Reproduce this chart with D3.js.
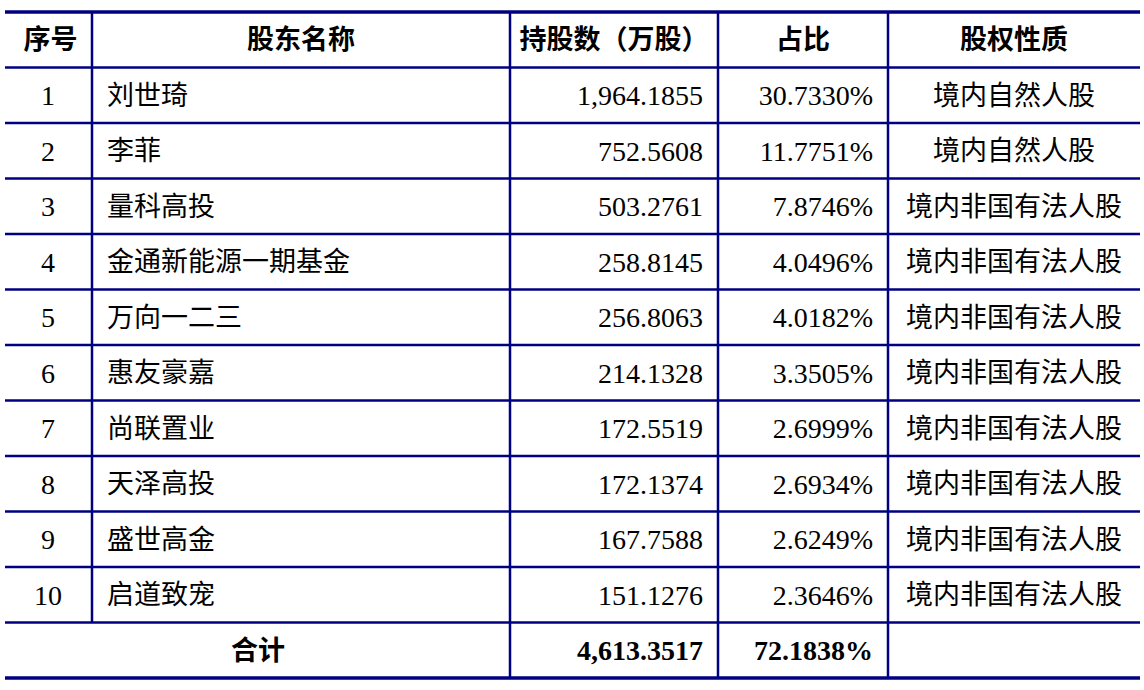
<!DOCTYPE html>
<html><head><meta charset="utf-8">
<script src="https://cdn.jsdelivr.net/npm/d3@7"></script>
<style>body{margin:0;background:#fff}</style></head>
<body><svg id="t" width="1144" height="690"></svg>
<script>
// table data
let headers = ["序号", "股东名称", "持股数（万股）", "占比", "股权性质"];
let names = ["刘世琦","李菲","量科高投","金通新能源一期基金","万向一二三","惠友豪嘉","尚联置业","天泽高投","盛世高金","启道致宠"];
let shares = ["1,964.1855","752.5608","503.2761","258.8145","256.8063","214.1328","172.5519","172.1374","167.7588","151.1276"];
let ratios = ["30.7330%","11.7751%","7.8746%","4.0496%","4.0182%","3.3505%","2.6999%","2.6934%","2.6249%","2.3646%"];
let kinds = ["境内自然人股","境内自然人股","境内非国有法人股","境内非国有法人股","境内非国有法人股","境内非国有法人股","境内非国有法人股","境内非国有法人股","境内非国有法人股","境内非国有法人股"];
let total = ["合计", "4,613.3517", "72.1838%"];

let svg = d3.select("#t");
let navy = "#000080";
let cjk = "'Noto Sans CJK SC', sans-serif";
let serif = "'Liberation Serif', 'DejaVu Serif', serif";
let colX = [5, 92, 510, 718, 888, 1140];
let y = d3.scaleLinear().domain([0, 12]).range([12, 678]);
let mid = i => (y(i) + y(i + 1)) / 2;

// horizontal lines
d3.range(13).forEach(i => {
  let thick = i == 0 || i == 12;
  svg.append("line").attr("x1", 5).attr("x2", 1140).attr("y1", y(i)).attr("y2", y(i))
    .attr("stroke", navy).attr("stroke-width", thick ? 3.5 : 2.5);
});
// vertical lines
colX.slice(1, 5).forEach((x, j) => {
  svg.append("line").attr("x1", x).attr("x2", x).attr("y1", y(0)).attr("y2", j == 0 ? y(11) : y(12))
    .attr("stroke", navy).attr("stroke-width", 2.5);
});

function txt(x, yy, s, anchor, font, bold) {
  svg.append("text").attr("x", x).attr("y", yy).attr("dy", "0.36em").attr("text-anchor", anchor)
    .attr("font-family", font).attr("font-size", font == cjk ? 27 : 28)
    .attr("font-weight", bold ? "bold" : "normal").attr("fill", "#000").text(s);
}

// header
headers.forEach((h, j) => txt((colX[j] + colX[j + 1]) / 2 + (j == 0 ? 2 : 0), mid(0), h, "middle", cjk, true));

names.forEach((n, i) => {
  let r = i + 1;
  txt(48, mid(r), String(i + 1), "middle", serif, false);
  txt(107, mid(r), n, "start", cjk, false);
  txt(703, mid(r), shares[i], "end", serif, false);
  txt(873, mid(r), ratios[i], "end", serif, false);
  txt(1014, mid(r), kinds[i], "middle", cjk, false);
});

txt(258, mid(11), total[0], "middle", cjk, true);
txt(703, mid(11), total[1], "end", serif, true);
txt(873, mid(11), total[2], "end", serif, true);
</script></body></html>
